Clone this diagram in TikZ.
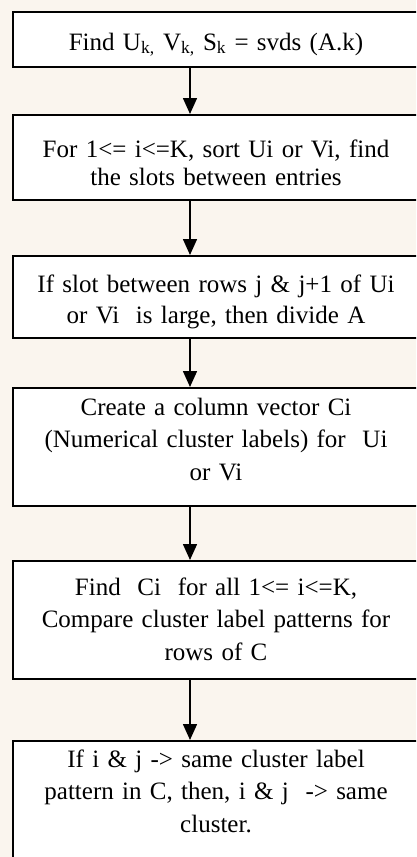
\documentclass[tikz,border=0pt]{standalone}
\usepackage{fontspec}
\setmainfont{Liberation Serif}
\usetikzlibrary{arrows.meta}
\definecolor{bgtint}{RGB}{250,245,238}
\begin{document}
\begin{tikzpicture}[x=1pt,y=-1pt,
  box/.style={draw=black, line width=1.7pt, fill=white, inner sep=0pt, anchor=north west, minimum width=413pt},
  txt/.style={text width=398pt, align=center, inner sep=0pt, anchor=base},
  flow/.style={-{Triangle[width=14pt,length=16pt]}, line width=1.6pt}]
\useasboundingbox (0,0) rectangle (416,857);
\clip (0,0) rectangle (416,857);
\fill[bgtint] (0,0) rectangle (416,857);
\coordinate (ax) at (190,0);
\node[box, minimum height=55pt]  (b1) at (12,11)  {};
\node[box, minimum height=85pt]  (b2) at (12,114) {};
\node[box, minimum height=82pt]  (b3) at (12,255) {};
\node[box, minimum height=118pt] (b4) at (12,387) {};
\node[box, minimum height=118pt] (b5) at (12,560) {};
\node[box, minimum height=140pt] (b6) at (12,740) {};
\node[txt, font=\fontsize{25}{28}\selectfont] (t1) at (216,50)
  {Find U\textsubscript{k,} V\textsubscript{k,} S\textsubscript{k} = svds (A.k)};
\node[txt, font=\fontsize{25}{28}\selectfont] (t2) at (216,157)
  {For 1<= i<=K, sort Ui or Vi, find\\the slots between entries};
\node[txt, font=\fontsize{25}{31}\selectfont] (t3) at (216,292)
  {If slot between rows j \& j+1 of Ui\\or Vi\ \ is large, then divide A};
\node[txt, font=\fontsize{25}{32.5}\selectfont] (t4) at (216,415)
  {Create a column vector Ci\\(Numerical cluster labels) for\ \ Ui\\or Vi};
\node[txt, font=\fontsize{25}{32.5}\selectfont] (t5) at (216,595)
  {Find\ \ Ci\ \ for all 1<= i<=K,\\Compare cluster label patterns for\\rows of C};
\node[txt, font=\fontsize{25}{32.5}\selectfont] (t6) at (216,767)
  {If i \& j -> same cluster label\\pattern in C, then, i \& j\ \ -> same\\cluster.};
\draw[flow] (b1.south -| ax) -- (b2.north -| ax);
\draw[flow] (b2.south -| ax) -- (b3.north -| ax);
\draw[flow] (b3.south -| ax) -- (b4.north -| ax);
\draw[flow] (b4.south -| ax) -- (b5.north -| ax);
\draw[flow] (b5.south -| ax) -- (b6.north -| ax);
\end{tikzpicture}
\end{document}
